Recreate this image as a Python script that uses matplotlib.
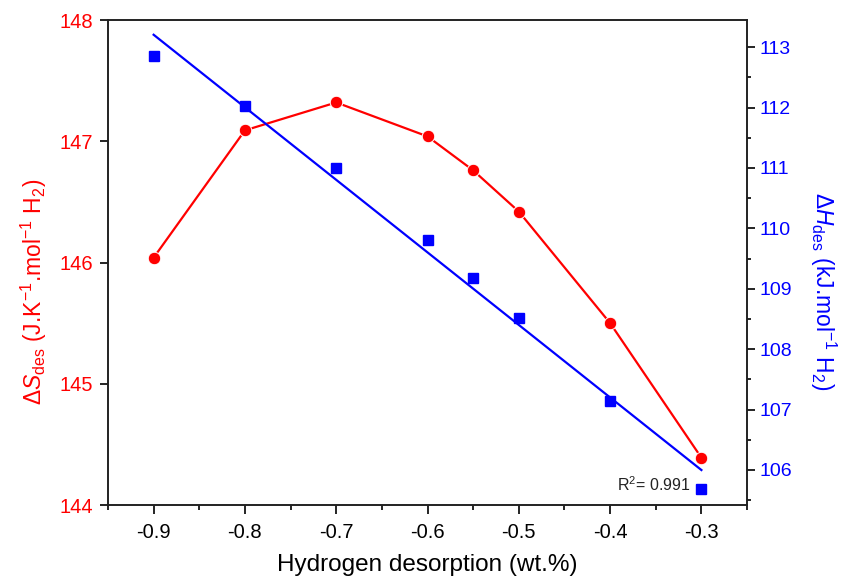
import matplotlib
matplotlib.use("Agg")
import matplotlib.pyplot as plt
from matplotlib.ticker import MultipleLocator
import numpy as np

plt.rcParams['font.family'] = ['Liberation Sans', 'DejaVu Sans']
plt.rcParams['mathtext.fontset'] = 'custom'
plt.rcParams['mathtext.rm'] = 'Liberation Sans'
plt.rcParams['mathtext.it'] = 'Liberation Sans:italic'

x_vals = [-0.9, -0.8, -0.7, -0.6, -0.55, -0.5, -0.4, -0.3]
dS = [146.04, 147.09, 147.32, 147.04, 146.76, 146.42, 145.50, 144.39]
dH = [112.85, 112.03, 111.00, 109.80, 109.18, 108.52, 107.15, 105.69]
x_ticks = [-0.9, -0.8, -0.7, -0.6, -0.5, -0.4, -0.3]
x_ticklabels = ['-0.9', '-0.8', '-0.7', '-0.6', '-0.5', '-0.4', '-0.3']
r2_text = r'R$^2$= 0.991'

fig = plt.figure(figsize=(8.47, 5.80), dpi=100)
ax = fig.add_axes([0.1275, 0.1293, 0.7545, 0.8362])
ax2 = ax.twinx()

ax.plot(x_vals, dS, color='#ff0000', lw=1.6, marker='o', ms=9,
        mec='white', mew=0.7, mfc='#ff0000', zorder=3)
ax2.plot(x_vals, dH, ls='none', color='#0000ff', marker='s', ms=6.5, zorder=3)
coef = np.polyfit(x_vals, dH, 1)
xf = np.array([x_vals[0], x_vals[-1]])
ax2.plot(xf, np.polyval(coef, xf), color='#0000ff', lw=1.6)

ax.set_xlim(-0.95, -0.25)
ax.set_ylim(144, 148)
ax2.set_ylim(105.42, 113.45)

ax.set_xticks(x_ticks)
ax.set_xticklabels(x_ticklabels)
ax.xaxis.set_minor_locator(MultipleLocator(0.05))
ax.yaxis.set_major_locator(MultipleLocator(1))
ax2.yaxis.set_major_locator(MultipleLocator(1))
ax2.yaxis.set_minor_locator(MultipleLocator(0.5))

ax.tick_params(axis='x', which='major', direction='out', length=6.5, width=1.2, labelsize=14.5, colors='black', pad=6.5)
ax.tick_params(axis='x', which='minor', direction='out', length=3.5, width=1.2)
ax.tick_params(axis='y', which='major', direction='out', length=5.5, width=1.2, labelsize=14.5, labelcolor='#ff0000', pad=5.5)
ax2.tick_params(axis='y', which='major', direction='out', length=5.5, width=1.2, labelsize=14, labelcolor='#0000ff', pad=3.5)
ax2.tick_params(axis='y', which='minor', direction='out', length=3, width=1.2)

for a in (ax, ax2):
    for s in a.spines.values():
        s.set_linewidth(1.2)
        s.set_color('#222222')

ax.set_xlabel('Hydrogen desorption (wt.%)', fontsize=17.5, labelpad=8.5)
ax.set_ylabel(r'$\Delta\mathit{S}_{\rm des}$ (J.K$^{-1}$.mol$^{-1}$ H$_2$)', color='#ff0000', fontsize=16.5, labelpad=7)
ax2.set_ylabel(r'$\Delta\mathit{H}_{\rm des}$ (kJ.mol$^{-1}$ H$_2$)', color='#0000ff', fontsize=16.5, rotation=270, labelpad=33)
ax.yaxis.label.set_y(0.44)
ax2.yaxis.label.set_y(0.44)

ax.text(-0.312, 144.17, r2_text, ha='right', va='center', fontsize=11.5, color='#222222')

fig.savefig('out.png', dpi=100)
